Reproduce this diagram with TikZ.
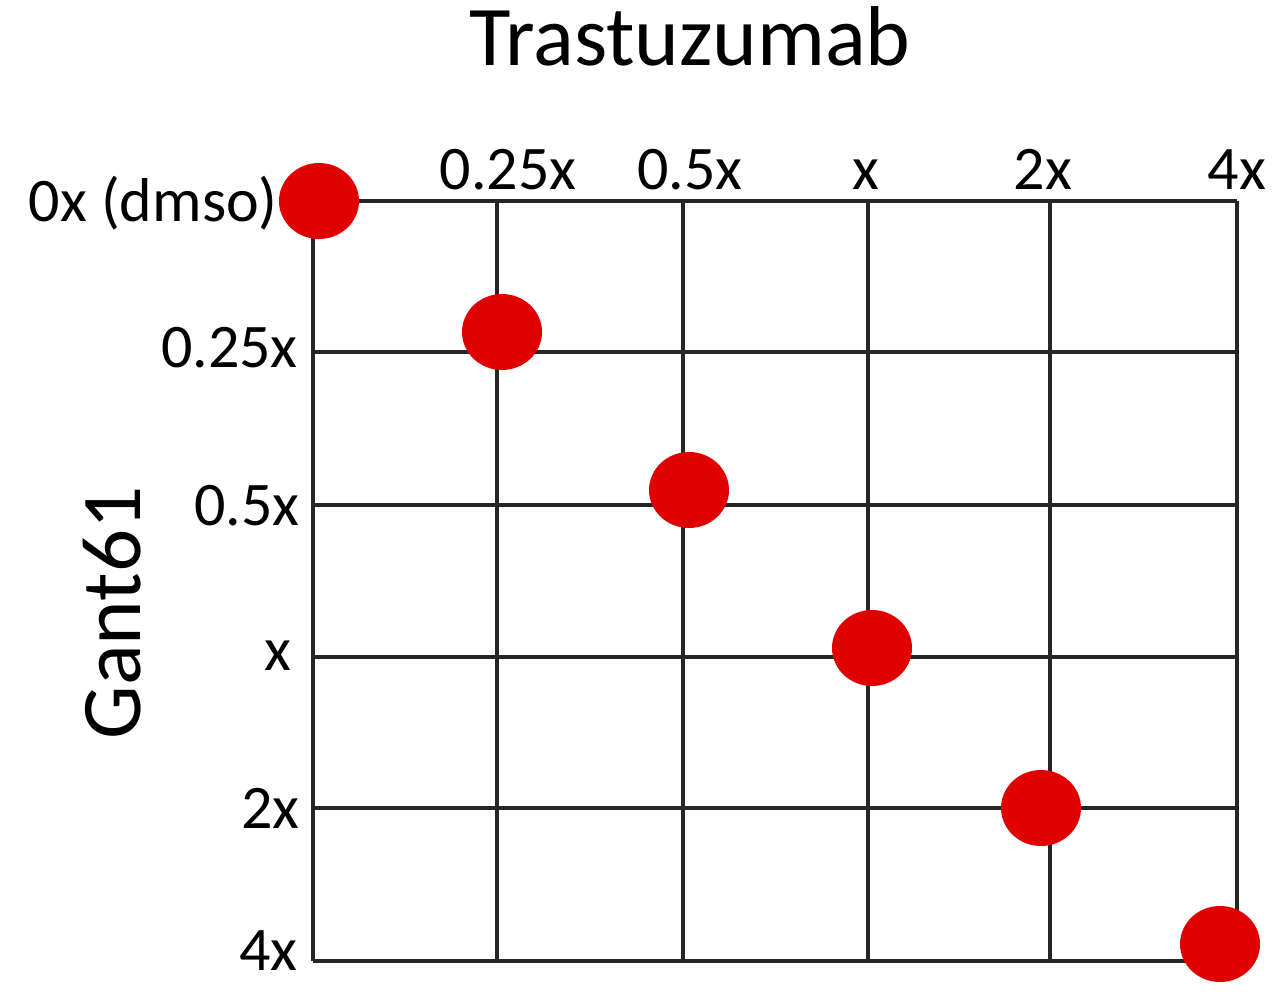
\documentclass[tikz,border=0pt]{standalone}
\usepackage{fontspec}
\setmainfont{Carlito}
\usetikzlibrary{shapes.geometric}
\begin{document}
\begin{tikzpicture}[x=1pt,y=-1pt,
  gridline/.style={line width=3.5pt,draw=black!85},
  dot/.style={ellipse,fill=red!88!black,inner sep=0pt,minimum width=80pt,minimum height=76pt},
  lbl/.style={font=\fontsize{62}{62}\selectfont,inner sep=0pt},
  title/.style={font=\fontsize{85}{85}\selectfont,inner sep=0pt}]
\useasboundingbox (0,0) rectangle (1288,1008);
% grid
\foreach \x in {313,497,683,868,1050,1237} \draw[gridline] (\x,201) -- (\x,961);
\foreach \y in {201,352,505,657,808,961} \draw[gridline] (313,\y) -- (1237,\y);
% dots
\node[dot] (d0) at (319,201) {};
\node[dot] (d1) at (502,332) {};
\node[dot] (d2) at (689,490) {};
\node[dot] (d3) at (872,648) {};
\node[dot] (d4) at (1041,808) {};
\node[dot] (d5) at (1220,944) {};
% titles
\node[title,anchor=base] (tt) at (690,66) {Trastuzumab};
\node[title,anchor=base,rotate=90] (gt) at (140,613) {Gant61};
% column labels
\node[lbl,anchor=base] (c1) at (508,190) {0.25x};
\node[lbl,anchor=base] (c2) at (690,190) {0.5x};
\node[lbl,anchor=base] (c3) at (866,190) {x};
\node[lbl,anchor=base] (c4) at (1043,190) {2x};
\node[lbl,anchor=base] (c5) at (1237,190) {4x};
% row labels
\node[lbl,anchor=base east] (r0) at (278,222) {0x (dmso)};
\node[lbl,anchor=base east] (r1) at (298,367) {0.25x};
\node[lbl,anchor=base east] (r2) at (300,525) {0.5x};
\node[lbl,anchor=base east] (r3) at (292,670) {x};
\node[lbl,anchor=base east] (r4) at (300,828) {2x};
\node[lbl,anchor=base east] (r5) at (298,970) {4x};
\end{tikzpicture}
\end{document}
